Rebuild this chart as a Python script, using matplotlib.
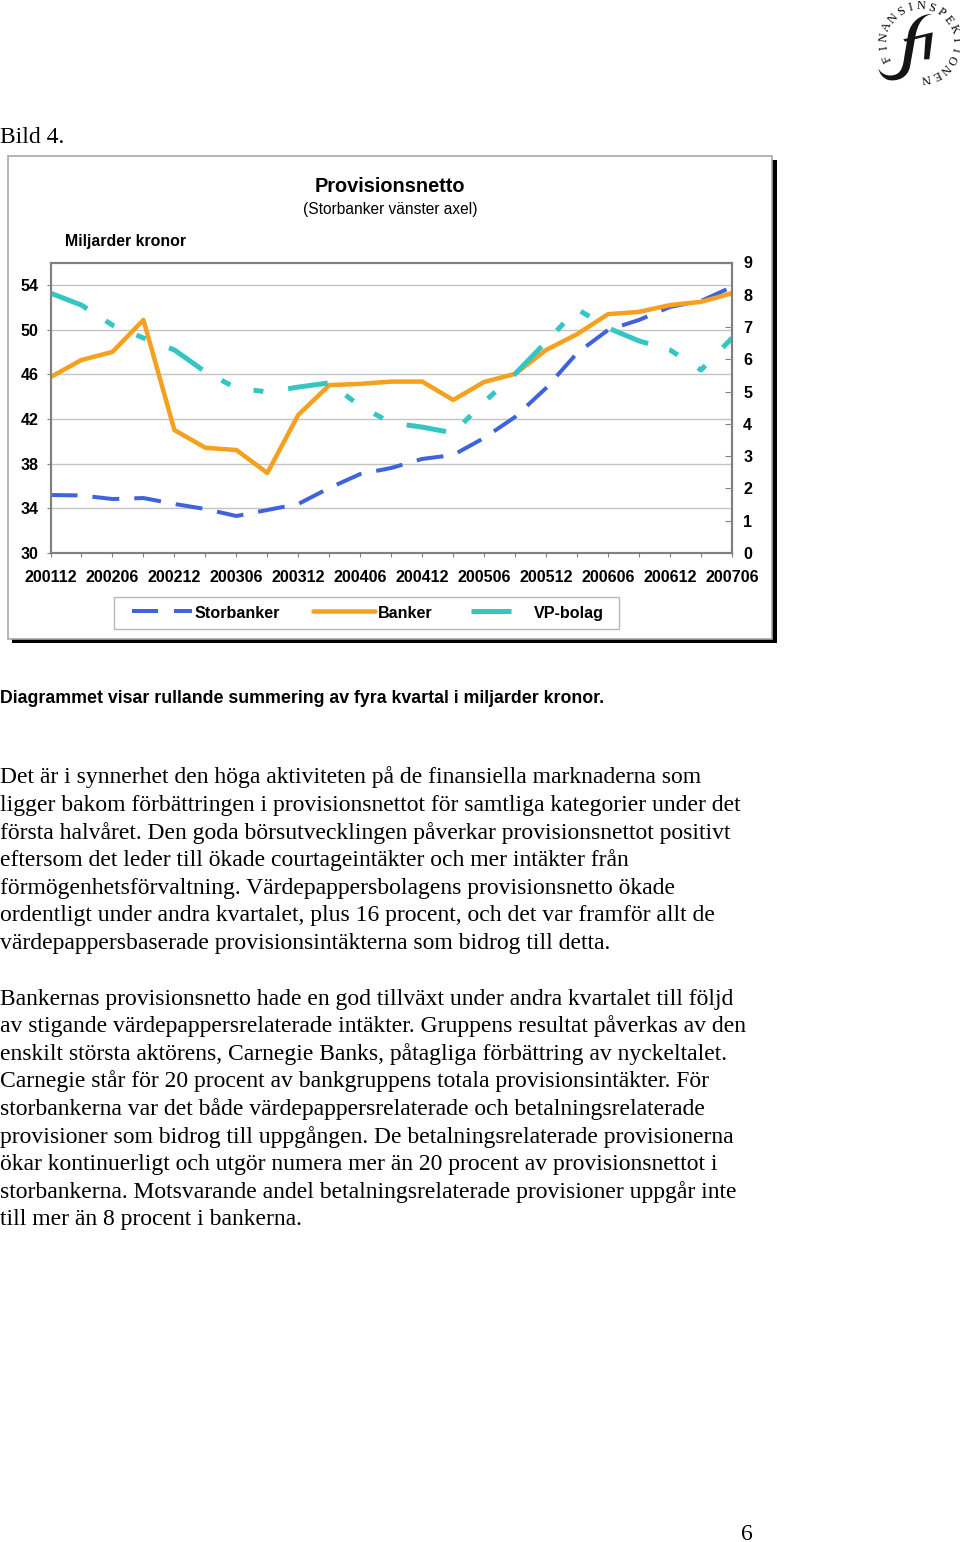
import numpy as np
import matplotlib
matplotlib.use('Agg')
import matplotlib.pyplot as plt
from matplotlib.patches import Rectangle, PathPatch
from matplotlib.path import Path
from matplotlib.lines import Line2D

plt.rcParams['font.family'] = ['Liberation Sans', 'DejaVu Sans']
plt.rcParams['lines.scale_dashes'] = False

W, H = 960, 1542
PX = 0.72  # pt per pixel at dpi 100

periods = ['200112', '200203', '200206', '200209', '200212', '200303', '200306', '200309',
           '200312', '200403', '200406', '200409', '200412', '200503', '200506', '200509',
           '200512', '200603', '200606', '200609', '200612', '200703', '200706']
storbanker = [35.19, 35.15, 34.83, 34.92, 34.39, 33.94, 33.31, 33.85, 34.39, 35.82, 37.07, 37.61,
              38.42, 38.77, 40.3, 42.18, 44.77, 47.9, 49.96, 50.86, 52.02, 52.56, 53.81]
banker = [5.45, 5.98, 6.23, 7.22, 3.81, 3.26, 3.19, 2.48, 4.28, 5.2, 5.24, 5.31,
          5.31, 4.74, 5.3, 5.55, 6.29, 6.78, 7.4, 7.47, 7.68, 7.78, 8.05]
vp_bolag = [8.05, 7.68, 7.06, 6.66, 6.29, 5.61, 5.11, 4.99, 5.14, 5.27, 4.55, 4.03,
            3.9, 3.72, 4.68, 5.55, 6.54, 7.56, 6.97, 6.57, 6.29, 5.67, 6.66]
left_ticks = [30, 34, 38, 42, 46, 50, 54]
right_ticks = [0, 1, 2, 3, 4, 5, 6, 7, 8, 9]

para1 = ['Det är i synnerhet den höga aktiviteten på de finansiella marknaderna som',
         'ligger bakom förbättringen i provisionsnettot för samtliga kategorier under det',
         'första halvåret. Den goda börsutvecklingen påverkar provisionsnettot positivt',
         'eftersom det leder till ökade courtageintäkter och mer intäkter från',
         'förmögenhetsförvaltning. Värdepappersbolagens provisionsnetto ökade',
         'ordentligt under andra kvartalet, plus 16 procent, och det var framför allt de',
         'värdepappersbaserade provisionsintäkterna som bidrog till detta.']
para2 = ['Bankernas provisionsnetto hade en god tillväxt under andra kvartalet till följd',
         'av stigande värdepappersrelaterade intäkter. Gruppens resultat påverkas av den',
         'enskilt största aktörens, Carnegie Banks, påtagliga förbättring av nyckeltalet.',
         'Carnegie står för 20 procent av bankgruppens totala provisionsintäkter. För',
         'storbankerna var det både värdepappersrelaterade och betalningsrelaterade',
         'provisioner som bidrog till uppgången. De betalningsrelaterade provisionerna',
         'ökar kontinuerligt och utgör numera mer än 20 procent av provisionsnettot i',
         'storbankerna. Motsvarande andel betalningsrelaterade provisioner uppgår inte',
         'till mer än 8 procent i bankerna.']
logo_letters = 'FINANSINSPEKTIONEN'

BLUE = '#3E63DD'
ORANGE = '#F5A01E'
TEAL = '#35C6C3'
blue_dash = (0, (27*PX, 15*PX))
teal_dash = (0, (40*PX, 22*PX, 10*PX, 24*PX, 10*PX, 25*PX))

fig = plt.figure(figsize=(W/100, H/100), dpi=100, facecolor='white')

# page layer in pixel coordinates
pg = fig.add_axes([0, 0, 1, 1])
pg.set_xlim(0, W)
pg.set_ylim(H, 0)
pg.axis('off')

pg.add_patch(Rectangle((12, 160), 765, 483, fc='black', ec='none', zorder=1))
pg.add_patch(Rectangle((8, 156), 764, 483, fc='white', ec='#a8a8a8', lw=1.2, zorder=2))

serif = ['Liberation Serif', 'DejaVu Serif']
pg.text(0, 143, 'Bild 4.', family=serif, fontsize=17.05, va='baseline')
for i, line in enumerate(para1):
    pg.text(0, 783.5 + i*27.6, line, family=serif, fontsize=17.05, va='baseline')
for i, line in enumerate(para2):
    pg.text(0, 1004.5 + i*27.6, line, family=serif, fontsize=17.05, va='baseline')
pg.text(747, 1540, '6', family=serif, fontsize=17.05, va='baseline', ha='center')
pg.text(0, 703, 'Diagrammet visar rullande summering av fyra kvartal i miljarder kronor.',
        fontsize=12.75, fontweight='bold', va='baseline')

pg.text(390, 192.5, 'Provisionsnetto', fontsize=14.4, fontweight='bold', ha='center', va='baseline', zorder=3)
pg.text(390, 214, '(Storbanker vänster axel)', fontsize=11.2, ha='center', va='baseline', zorder=3)
pg.text(65, 246, 'Miljarder kronor', fontsize=11.4, fontweight='bold', va='baseline', zorder=3)

# legend box
pg.add_patch(Rectangle((113.5, 597), 505.5, 31.5, fc='white', ec='#b8b8b8', lw=1, zorder=3))
pg.add_line(Line2D([132, 192], [611, 611], color=BLUE, lw=4*PX, ls=(0, (26*PX, 16*PX)),
                   dash_capstyle='butt', zorder=4))
pg.add_line(Line2D([313, 375], [611, 611], color=ORANGE, lw=4.5*PX, solid_capstyle='round', zorder=4))
pg.add_line(Line2D([471, 511], [611, 611], color=TEAL, lw=5*PX, solid_capstyle='butt', zorder=4))
pg.text(195, 618, 'Storbanker', fontsize=11.6, fontweight='bold', va='baseline', zorder=4)
pg.text(378, 618, 'Banker', fontsize=11.6, fontweight='bold', va='baseline', zorder=4)
pg.text(534, 618, 'VP-bolag', fontsize=11.6, fontweight='bold', va='baseline', zorder=4)

# logo, letters on a circle
cx, cy, r = 920, 42, 36
for ch, a in zip(logo_letters, np.linspace(206, -80, len(logo_letters))):
    t = np.deg2rad(a)
    pg.text(cx + r*np.cos(t), cy - r*np.sin(t), ch, family=serif, fontsize=8.8, ha='center', va='center',
            rotation=a - 90, rotation_mode='anchor')

def logo_xy(pts):
    return [(860 + px/3, py/3) for px, py in pts]

f_pts = [(218, 42), (190, 45), (172, 70), (165, 115), (150, 200), (143, 235), (110, 245), (85, 240),
         (68, 235), (58, 220), (55, 205), (65, 225), (90, 232), (110, 222), (125, 215), (130, 195),
         (133, 170), (145, 100), (152, 65), (185, 40), (218, 42), (218, 42)]
f_codes = [Path.MOVETO, Path.CURVE4, Path.CURVE4, Path.CURVE4, Path.LINETO, Path.CURVE4, Path.CURVE4, Path.CURVE4,
           Path.CURVE4, Path.CURVE4, Path.CURVE4, Path.CURVE4, Path.CURVE4, Path.CURVE4, Path.CURVE4, Path.CURVE4,
           Path.CURVE4, Path.LINETO, Path.CURVE4, Path.CURVE4, Path.CURVE4, Path.CLOSEPOLY]
pg.add_patch(PathPatch(Path(logo_xy(f_pts), f_codes), fc='#141414', ec='none'))
bar_pts = [(130, 118), (218, 97), (216, 105), (135, 125), (130, 118)]
pg.add_patch(PathPatch(Path(logo_xy(bar_pts), closed=True), fc='#141414', ec='none'))
i_pts = [(197, 105), (218, 100), (208, 178), (192, 178), (197, 105)]
pg.add_patch(PathPatch(Path(logo_xy(i_pts), closed=True), fc='#141414', ec='none'))

# chart
ax = fig.add_axes([50.5/W, (H-553)/H, 681.5/W, 290.5/H], zorder=5)
ax.patch.set_alpha(0)
x = np.arange(len(periods))
ax.plot(x, storbanker, color=BLUE, lw=4*PX, ls=blue_dash, dash_capstyle='butt', dash_joinstyle='round')
ax.set_xlim(0, len(periods)-1)
ax.set_ylim(30, 56)
ax.set_xticks(x)
ax.set_xticklabels([p if i % 2 == 0 else '' for i, p in enumerate(periods)],
                   fontsize=11.6, fontweight='bold')
ax.set_yticks(left_ticks)
ax.set_yticklabels([str(v) for v in left_ticks], fontsize=11.6, fontweight='bold')
ax.grid(axis='y', color='#c4c4c4', lw=1)
ax.set_axisbelow(True)
ax.tick_params(axis='x', length=3, width=0.8, color='#808080', pad=9.5)
ax.tick_params(axis='y', length=3, width=0.8, color='#808080', pad=5.5)

ax2 = ax.twinx()
ax2.plot(x, banker, color=ORANGE, lw=4.5*PX, solid_joinstyle='round')
ax2.plot(x, vp_bolag, color=TEAL, lw=5*PX, ls=teal_dash, dash_capstyle='butt')
ax2.set_ylim(0, 9)
ax2.set_yticks(right_ticks)
ax2.set_yticklabels([str(v) for v in right_ticks], fontsize=11.6, fontweight='bold')
ax2.tick_params(axis='y', direction='in', length=5, width=0.8, color='#808080', pad=8)

for a in (ax, ax2):
    for s in a.spines.values():
        s.set_color('#808080')
        s.set_linewidth(1.5)

fig.savefig('out.png', dpi=100)
